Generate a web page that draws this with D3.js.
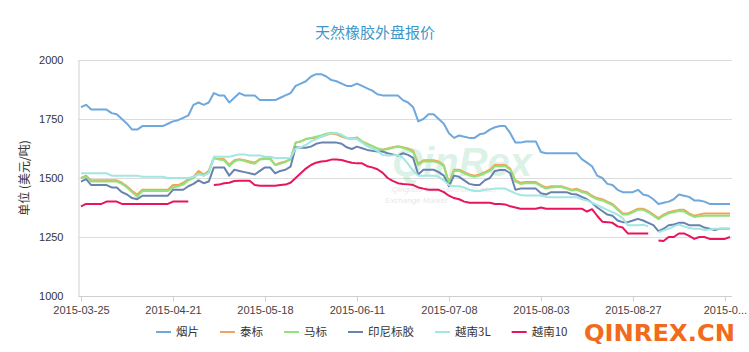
<!DOCTYPE html>
<html>
<head>
<meta charset="utf-8">
<script src="https://cdn.jsdelivr.net/npm/d3@7"></script>
<style>
    body { margin: 0; background: #fff; }
    svg { display: block; font-family: "Liberation Sans", Arial, sans-serif; }
</style>
</head>
<body>
<div id="chart"></div>
<script>
// trading days (2015), category axis
const dates = ("03-25 03-26 03-27 03-30 03-31 04-01 04-02 04-03 04-07 04-08 04-09 04-10 04-13 04-14 04-15 04-16 04-17 04-20 04-21 " +
    "04-22 04-23 04-24 04-27 04-28 04-29 04-30 05-04 05-05 05-06 05-07 05-08 05-11 05-12 05-13 05-14 05-15 05-18 " +
    "05-19 05-20 05-21 05-22 05-25 05-26 05-27 05-28 05-29 06-01 06-02 06-03 06-04 06-05 06-08 06-09 06-10 06-11 " +
    "06-12 06-15 06-16 06-17 06-18 06-19 06-23 06-24 06-25 06-26 06-29 06-30 07-01 07-02 07-03 07-06 07-07 07-08 " +
    "07-09 07-10 07-13 07-14 07-15 07-16 07-17 07-20 07-21 07-22 07-23 07-24 07-27 07-28 07-29 07-30 07-31 08-03 " +
    "08-04 08-05 08-06 08-07 08-10 08-11 08-12 08-13 08-14 08-17 08-18 08-19 08-20 08-21 08-24 08-25 08-26 08-27 " +
    "08-28 08-31 09-01 09-02 09-07 09-08 09-09 09-10 09-11 09-14 09-15 09-16 09-17 09-18 09-21 09-22 09-23 09-24 09-25")
    .split(" ").map(d => "2015-" + d);

const tickDates = ["2015-03-25", "2015-04-21", "2015-05-18", "2015-06-11", "2015-07-08", "2015-08-03", "2015-08-27", "2015-09-24"];
const yTicks = [1000, 1250, 1500, 1750, 2000];

const seriesNames = ["烟片", "泰标", "马标", "印尼标胶", "越南3L", "越南10"];

const yanpian = [
    1800,1810,1790,1790,1790,1790,1775,1770,1750,1730,
    1705,1705,1720,1720,1720,1720,1720,1730,1740,1745,
    1755,1765,1810,1820,1810,1820,1860,1850,1850,1820,
    1840,1860,1850,1850,1850,1830,1830,1830,1830,1840,
    1850,1860,1890,1900,1910,1930,1940,1940,1930,1915,
    1910,1900,1890,1890,1900,1890,1880,1870,1855,1850,
    1850,1850,1850,1830,1820,1800,1740,1750,1770,1770,
    1750,1730,1690,1670,1680,1675,1670,1670,1685,1690,
    1705,1715,1720,1720,1690,1650,1650,1655,1655,1655,
    1610,1605,1605,1605,1605,1605,1605,1605,1580,1565,
    1550,1510,1500,1475,1470,1450,1440,1440,1440,1450,
    1430,1425,1410,1390,1395,1400,1410,1430,1425,1420,
    1405,1405,1400,1390,1390,1390,1390,1390];

const taibiao = [
    1500,1510,1490,1490,1490,1490,1490,1490,1480,1465,
    1445,1430,1450,1450,1450,1450,1450,1450,1470,1470,
    1480,1495,1505,1530,1515,1530,1585,1580,1580,1555,
    1575,1580,1575,1570,1565,1580,1585,1585,1555,1565,
    1570,1580,1650,1655,1665,1668,1670,1675,1682,1688,
    1685,1676,1668,1665,1672,1655,1645,1635,1625,1620,
    1625,1630,1635,1630,1625,1615,1560,1575,1575,1575,
    1570,1555,1480,1535,1535,1525,1515,1510,1515,1525,
    1535,1555,1555,1555,1540,1490,1480,1483,1483,1483,
    1470,1460,1465,1465,1465,1458,1450,1455,1445,1440,
    1425,1415,1410,1400,1390,1370,1350,1350,1360,1370,
    1370,1360,1345,1330,1345,1355,1360,1365,1365,1350,
    1340,1345,1350,1350,1350,1350,1350,1350];

const mabiao = [
    1500,1505,1485,1485,1485,1485,1485,1485,1475,1460,
    1440,1420,1445,1445,1445,1445,1445,1445,1460,1465,
    1472,1490,1500,1520,1510,1525,1585,1578,1575,1550,
    1570,1578,1572,1565,1560,1578,1580,1580,1555,1560,
    1568,1578,1650,1655,1665,1670,1675,1680,1688,1692,
    1690,1680,1670,1668,1670,1655,1643,1635,1625,1620,
    1622,1628,1632,1628,1620,1610,1555,1570,1570,1570,
    1565,1550,1475,1530,1530,1520,1510,1505,1510,1520,
    1530,1550,1550,1550,1535,1485,1475,1478,1478,1478,
    1465,1455,1460,1462,1462,1455,1447,1450,1440,1435,
    1420,1410,1405,1395,1385,1365,1345,1345,1355,1365,
    1365,1355,1340,1325,1340,1350,1355,1360,1358,1345,
    1335,1338,1340,1340,1340,1340,1340,1340];

const yinni = [
    1485,1495,1470,1470,1470,1470,1460,1460,1440,1430,
    1415,1410,1425,1425,1425,1425,1425,1425,1450,1450,
    1450,1465,1475,1490,1478,1485,1545,1545,1545,1510,
    1535,1530,1525,1520,1515,1530,1545,1545,1520,1530,
    1535,1548,1630,1628,1628,1633,1645,1650,1650,1650,
    1650,1645,1630,1623,1633,1626,1619,1615,1612,1612,
    1605,1600,1595,1605,1598,1585,1515,1535,1535,1535,
    1525,1510,1465,1510,1505,1490,1475,1470,1470,1490,
    1500,1530,1534,1534,1520,1450,1455,1455,1455,1455,
    1435,1430,1440,1440,1440,1440,1432,1430,1420,1410,
    1395,1375,1360,1345,1340,1320,1313,1313,1320,1327,
    1320,1310,1300,1275,1285,1300,1303,1310,1310,1300,
    1300,1300,1290,1285,1280,1285,1285,1285];

const vn3l = [
    1520,1520,1520,1520,1520,1520,1510,1510,1510,1510,
    1510,1510,1505,1505,1505,1505,1505,1500,1500,1500,
    1500,1500,1505,1515,1510,1520,1590,1590,1590,1590,
    1595,1600,1600,1595,1595,1595,1590,1590,1585,1585,
    1585,1585,1625,1630,1640,1655,1665,1675,1683,1690,
    1690,1683,1670,1665,1665,1650,1635,1625,1615,1598,
    1595,1596,1598,1585,1560,1530,1510,1510,1510,1510,
    1505,1490,1470,1465,1465,1460,1450,1445,1445,1450,
    1452,1455,1455,1455,1445,1435,1428,1426,1426,1426,
    1426,1420,1418,1418,1418,1418,1418,1418,1410,1405,
    1395,1385,1375,1365,1355,1345,1330,1300,1300,1300,
    1302,1295,null,1270,1278,1285,1295,1303,1295,1288,
    1285,1285,1280,1282,1285,1285,1285,1285];

const vn10 = [
    1380,1390,1390,1390,1390,1400,1400,1400,1390,1390,
    1390,1390,1390,1390,1390,1390,1390,1390,1400,1400,
    1400,1400,null,null,null,null,1470,1472,1478,1480,
    1487,1488,1488,1488,1470,1467,1467,1467,1467,1470,
    1472,1480,1500,1520,1540,1555,1565,1570,1572,1578,
    1578,1576,1570,1565,1562,1562,1550,1545,1537,1523,
    1500,1488,1478,1475,1473,1470,1460,1455,1450,1450,
    1450,1440,1425,1415,1410,1400,1395,1395,1395,1395,
    1395,1390,1390,1388,1380,1375,1370,1370,1370,1370,
    1375,1370,1370,1370,1370,1370,1370,1370,1370,1358,
    1368,1340,1315,1313,1310,1295,1290,1265,1265,1265,
    1265,1265,null,1235,1233,1250,1250,1265,1265,1255,
    1242,1250,1250,1242,1242,1242,1242,1250];

const seriesValues = [yanpian, taibiao, mabiao, yinni, vn3l, vn10];
const colors = ["#6fa8dc", "#f3a45c", "#8fe37a", "#6883b0", "#a3e6e2", "#e8155d"];

const W = 749, H = 352;
const plot = {left: 81, right: 730, top: 60, bottom: 296};

const svg = d3.select("#chart").append("svg")
    .attr("width", W)
    .attr("height", H);

// title
svg.append("text")
    .attr("x", 375)
    .attr("y", 38)
    .attr("text-anchor", "middle")
    .style("font-family", "'Noto Sans CJK SC', sans-serif")
    .style("font-size", "15px")
    .style("fill", "#3f96c8")
    .text("天然橡胶外盘报价");

// scales
const x = d3.scalePoint().domain(dates).range([plot.left, plot.right]);
const y = d3.scaleLinear().domain([1000, 2000]).range([plot.bottom, plot.top]);

// grid lines
svg.append("g")
    .selectAll("line")
    .data(yTicks.slice(1))
    .join("line")
    .attr("x1", 78.5)
    .attr("x2", 732)
    .attr("y1", d => Math.round(y(d)) + 0.5)
    .attr("y2", d => Math.round(y(d)) + 0.5)
    .attr("stroke", "#dcdcdc");

// faint watermark in the middle
const wm = svg.append("g").attr("opacity", 0.16);
wm.append("text")
    .attr("x", 392).attr("y", 176)
    .style("font-size", "40px").style("font-weight", "bold").style("font-style", "italic")
    .style("fill", "#2fb36b")
    .text("QinRex");
wm.append("text")
    .attr("x", 392).attr("y", 192)
    .style("font-size", "8px").style("font-style", "italic").style("fill", "#666")
    .text("Qingdao International Rubber");
wm.append("text")
    .attr("x", 385).attr("y", 203)
    .style("font-size", "8px").style("font-style", "italic").style("fill", "#666")
    .text("Exchange Market");

// y axis
const yAxis = svg.append("g")
    .attr("transform", "translate(78.5,0)")
    .call(d3.axisLeft(y).tickValues(yTicks).tickSize(0).tickPadding(15).tickFormat(d3.format("d")));
yAxis.select(".domain").attr("stroke", "#cfcfcf");
yAxis.selectAll("text").style("font-size", "11px").style("fill", "#333");

svg.append("text")
    .attr("transform", "translate(29,178) rotate(-90)")
    .attr("text-anchor", "middle")
    .style("font-family", "'Noto Sans CJK SC', sans-serif")
    .style("font-size", "12px")
    .style("fill", "#333")
    .text("单位 (美元/吨)");

// x axis
const lastTick = tickDates[tickDates.length - 1];
const xAxis = svg.append("g")
    .attr("transform", `translate(0,${plot.bottom + 0.5})`)
    .call(d3.axisBottom(x)
        .tickValues(tickDates)
        .tickSize(5)
        .tickSizeOuter(0)
        .tickPadding(5)
        .tickFormat(d => d === lastTick ? d.slice(0, 6) + "..." : d));
xAxis.select(".domain").attr("d", "M78.5,0H732").attr("stroke", "#cfcfcf");
xAxis.selectAll(".tick line").attr("stroke", "#cfcfcf");
xAxis.selectAll("text").style("font-size", "11px").style("fill", "#444");

// lines
const line = d3.line()
    .defined(d => d.v !== null)
    .x(d => x(d.date))
    .y(d => y(d.v));

seriesValues.forEach((vals, k) => {
    svg.append("path")
        .datum(vals.map((v, i) => ({date: dates[i], v: v})))
        .attr("fill", "none")
        .attr("stroke", colors[k])
        .attr("stroke-width", 2)
        .attr("stroke-linejoin", "round")
        .attr("d", line);
});

// legend
const legend = svg.append("g").attr("transform", "translate(156,332)");
let lx = 0;
seriesNames.forEach((name, k) => {
    const item = legend.append("g").attr("transform", `translate(${lx},0)`);
    item.append("line")
        .attr("x1", 0).attr("x2", 15)
        .attr("y1", 0).attr("y2", 0)
        .attr("stroke", colors[k])
        .attr("stroke-width", 2);
    const t = item.append("text")
        .attr("x", 20)
        .attr("y", 4)
        .style("font-family", "'Noto Sans CJK SC', sans-serif")
        .style("font-size", "11.5px")
        .style("fill", "#333")
        .text(name);
    lx += 20 + t.node().getComputedTextLength() + 21;
});

// site mark
svg.append("text")
    .attr("x", 584)
    .attr("y", 341)
    .attr("textLength", 151)
    .attr("lengthAdjust", "spacingAndGlyphs")
    .style("font-family", "'DejaVu Sans', sans-serif")
    .style("font-size", "23px")
    .style("font-weight", "bold")
    .style("fill", "#f26a1b")
    .text("QINREX.CN");
</script>
</body>
</html>
